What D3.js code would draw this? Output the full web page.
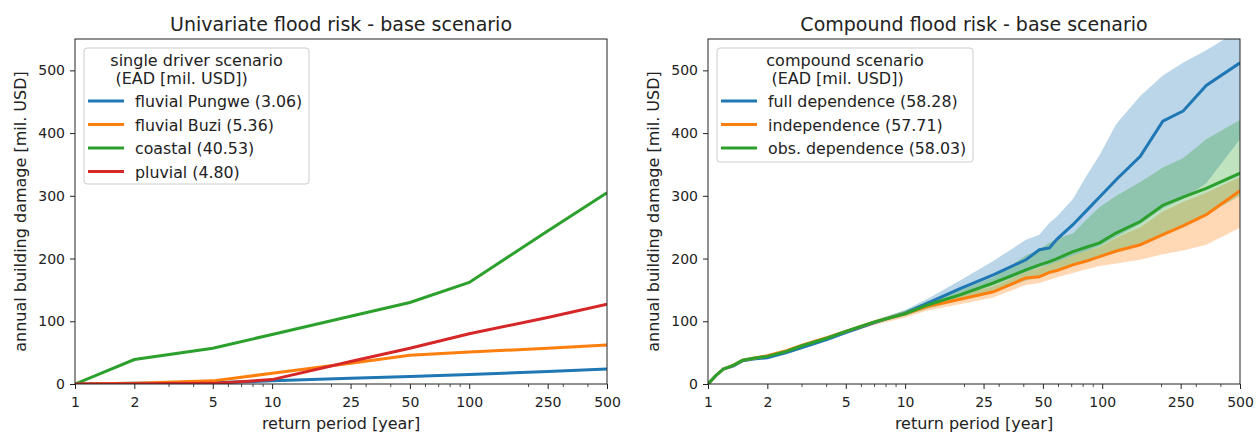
<!DOCTYPE html>
<html>
<head>
<meta charset="utf-8">
<script src="https://cdn.jsdelivr.net/npm/d3@7"></script>
<style>
  body { margin: 0; background: #fff; }
  text { font-family: "DejaVu Sans", sans-serif; fill: #222; white-space: pre; }
</style>
</head>
<body>
<div id="chart"></div>
<script>
// left panel: single driver scenarios
var rpLeft = [1, 2, 5, 10, 25, 50, 100, 250, 500];
var pungwe = [0, 1, 2, 5, 9, 12, 15, 20, 24];
var buzi = [0, 1, 5, 17, 33, 46, 51, 57, 62];
var coastal = [0, 39, 57, 79, 108, 130, 162, 244, 305];
var pluvial = [0, 0.5, 1, 7, 36, 57, 80, 106, 127];
var leftNames = ["fluvial Pungwe (3.06)", "fluvial Buzi (5.36)", "coastal (40.53)", "pluvial (4.80)"];

// right panel: compound scenarios (median + band)
var rpRight = [1, 1.1, 1.2, 1.35, 1.5, 1.7, 2, 2.5, 3, 4, 5, 7, 10, 13, 19, 28, 41, 48, 54, 59, 71, 83, 97, 118, 156, 203, 257, 337, 500];
var fullDep = [0, 14, 24, 29, 37, 40, 42, 50, 58, 71, 82, 98, 113, 129, 152, 174, 198, 214, 217, 231, 254, 276, 298, 326, 363, 419, 435, 476, 512];
var fullLow = [0, 13, 23, 28, 36, 39, 41, 48, 56, 69, 80, 96, 111, 124, 140, 158, 178, 186, 190, 195, 205, 212, 220, 235, 255, 280, 295, 320, 390];
var fullHigh = [0, 15, 25, 30, 38, 41, 44, 52, 60, 73, 84, 101, 118, 136, 165, 196, 230, 238, 257, 267, 295, 331, 365, 415, 459, 492, 512, 532, 565];
var indep = [0, 14, 24, 30, 38, 41, 45, 53, 62, 74, 84, 99, 112, 124, 135, 147, 169, 171, 178, 181, 190, 196, 203, 212, 222, 238, 252, 270, 308];
var indepLow = [0, 13, 23, 28, 36, 39, 43, 50, 58, 70, 80, 94, 106, 117, 127, 138, 158, 161, 166, 170, 177, 183, 188, 192, 198, 207, 213, 222, 249];
var indepHigh = [0, 15, 25, 31, 39, 42, 46, 54, 63, 75, 86, 101, 115, 128, 142, 156, 178, 185, 190, 195, 205, 212, 219, 233, 250, 275, 290, 305, 330];
var obsDep = [0, 14, 24, 30, 38, 41, 44, 52, 61, 73, 84, 99, 112, 126, 142, 161, 182, 190, 195, 200, 211, 218, 225, 241, 259, 285, 298, 312, 336];
var obsLow = [0, 13, 23, 29, 37, 40, 43, 51, 60, 72, 82, 97, 109, 120, 133, 146, 165, 170, 176, 180, 189, 195, 202, 212, 222, 238, 252, 270, 300];
var obsHigh = [0, 15, 25, 31, 39, 42, 45, 53, 62, 74, 86, 102, 117, 132, 150, 170, 205, 215, 225, 232, 240, 262, 282, 300, 322, 345, 360, 390, 421];
var rightNames = ["full dependence (58.28)", "independence (57.71)", "obs. dependence (58.03)"];

var xTicks = [1, 2, 5, 10, 25, 50, 100, 250, 500];
var yTicks = [0, 100, 200, 300, 400, 500];

var colors = ["#1f77b4", "#ff7f0e", "#2ca02c", "#d62728"];

var svgWidth = 1257;
var svgHeight = 432;
var plotW = 532;
var plotH = 345;
var marginTop = 39;

var svg = d3.select("#chart")
    .append("svg")
    .attr("width", svgWidth)
    .attr("height", svgHeight);

var x = d3.scaleLog().domain([1, 500]).range([0, plotW]);
var y = d3.scaleLinear().domain([0, 550]).range([plotH, 0]);

// minor ticks of a log axis, skipping the labelled ones
var minorTicks = [];
[1, 10, 100].forEach(function(dec) {
  for (var k = 2; k <= 9; k++) {
    var v = k * dec;
    if (v <= 500 && xTicks.indexOf(v) < 0) minorTicks.push(v);
  }
});

function makePanel(left, title, id) {
  var g = svg.append("g").attr("transform", `translate(${left}, ${marginTop})`);

  g.append("clipPath").attr("id", id)
    .append("rect").attr("width", plotW).attr("height", plotH);

  var xAxis = g.append("g")
    .attr("transform", `translate(0, ${plotH})`)
    .call(d3.axisBottom(x).tickValues(xTicks).tickFormat(d3.format("d")).tickSize(5).tickPadding(8));
  xAxis.selectAll("text").attr("font-size", "14px");

  g.append("g")
    .attr("transform", `translate(0, ${plotH})`)
    .selectAll("line")
    .data(minorTicks)
    .enter()
    .append("line")
    .attr("x1", d => x(d)).attr("x2", d => x(d))
    .attr("y1", 0).attr("y2", 3)
    .attr("stroke", "#222").attr("stroke-width", 0.8);

  var yAxis = g.append("g")
    .call(d3.axisLeft(y).tickValues(yTicks).tickSize(5).tickPadding(5));
  yAxis.selectAll("text").attr("font-size", "14px");

  g.selectAll(".domain").remove();
  g.selectAll(".tick line").attr("stroke", "#222");

  g.append("text")
    .attr("x", plotW / 2).attr("y", -8)
    .attr("text-anchor", "middle")
    .attr("font-size", "19px")
    .text(title);

  g.append("text")
    .attr("x", plotW / 2).attr("y", plotH + 45)
    .attr("text-anchor", "middle")
    .attr("font-size", "16px")
    .text("return period [year]");

  g.append("text")
    .attr("transform", "rotate(-90)")
    .attr("x", -plotH / 2).attr("y", -49)
    .attr("text-anchor", "middle")
    .attr("font-size", "16px")
    .text("annual building damage [mil. USD]");

  var plot = g.append("g").attr("clip-path", `url(#${id})`);
  return { g: g, plot: plot };
}

function addLegend(g, w, h, titleLines, names, cols) {
  var lg = g.append("g").attr("transform", "translate(9, 9)");
  lg.append("rect")
    .attr("width", w).attr("height", h)
    .attr("rx", 3)
    .attr("fill", "#fff").attr("fill-opacity", 0.8)
    .attr("stroke", "#ccc");
  var tl = lg.selectAll(".lt")
    .data(titleLines)
    .enter()
    .append("text")
    .attr("y", (d, i) => 18 + i * 18)
    .attr("font-size", "16px")
    .text(d => d);
  // centre the title block on the box, lines left-aligned
  var titleLen = tl.node().getComputedTextLength();
  tl.attr("x", (w - titleLen) / 2);

  var items = lg.selectAll(".item")
    .data(names)
    .enter()
    .append("g")
    .attr("transform", (d, i) => `translate(0, ${53 + i * 23.5})`);
  items.append("line")
    .attr("x1", 4).attr("x2", 40)
    .attr("stroke", (d, i) => cols[i])
    .attr("stroke-width", 3);
  items.append("text")
    .attr("x", 51).attr("y", 6)
    .attr("font-size", "15.8px")
    .text(d => d);
}

// ---- left panel
var leftPanel = makePanel(75, "Univariate flood risk - base scenario", "clipL");
var leftSeries = [pungwe, buzi, coastal, pluvial];
var lineL = d3.line()
  .x((d, i) => x(rpLeft[i]))
  .y(d => y(d));

leftPanel.plot.selectAll("path")
  .data(leftSeries)
  .enter()
  .append("path")
  .attr("d", d => lineL(d))
  .attr("fill", "none")
  .attr("stroke", (d, i) => colors[i])
  .attr("stroke-width", 3);

leftPanel.g.append("rect")
  .attr("width", plotW).attr("height", plotH)
  .attr("fill", "none").attr("stroke", "#222").attr("stroke-width", 1);

addLegend(leftPanel.g, 225, 136, ["single driver scenario", " (EAD [mil. USD])"], leftNames, colors);

// ---- right panel
var rightPanel = makePanel(708, "Compound flood risk - base scenario", "clipR");
var bands = [[fullLow, fullHigh], [indepLow, indepHigh], [obsLow, obsHigh]];
var medians = [fullDep, indep, obsDep];

var area = d3.area()
  .x((d, i) => x(rpRight[i]))
  .y0(d => y(d[0]))
  .y1(d => y(d[1]));

var lineR = d3.line()
  .x((d, i) => x(rpRight[i]))
  .y(d => y(d));

rightPanel.plot.selectAll(".band")
  .data(bands)
  .enter()
  .append("path")
  .attr("d", d => area(d[0].map((v, i) => [v, d[1][i]])))
  .attr("fill", (d, i) => colors[i])
  .attr("fill-opacity", 0.3);

rightPanel.plot.selectAll(".med")
  .data(medians)
  .enter()
  .append("path")
  .attr("d", d => lineR(d))
  .attr("fill", "none")
  .attr("stroke", (d, i) => colors[i])
  .attr("stroke-width", 3);

rightPanel.g.append("rect")
  .attr("width", plotW).attr("height", plotH)
  .attr("fill", "none").attr("stroke", "#222").attr("stroke-width", 1);

addLegend(rightPanel.g, 256, 114, ["compound scenario", " (EAD [mil. USD])"], rightNames, colors);
</script>
</body>
</html>
